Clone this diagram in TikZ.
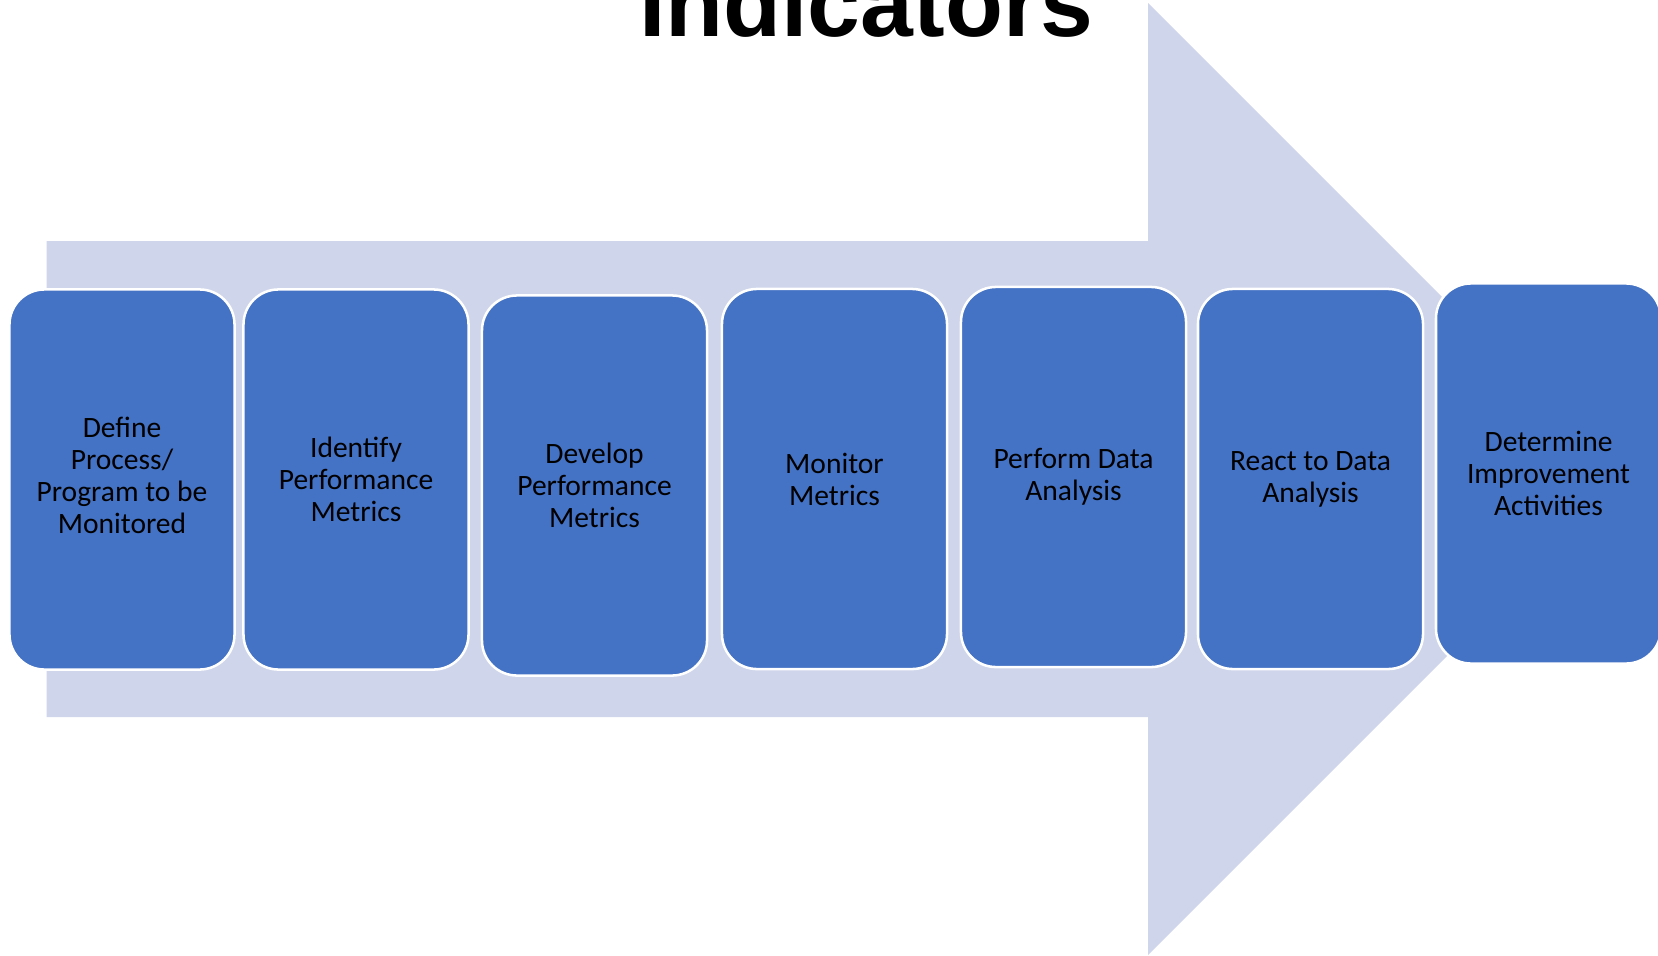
\documentclass[tikz,border=0pt]{standalone}
\usepackage{fontspec}
\setmainfont{Carlito}
\newfontfamily\headfont{Liberation Sans}
\usetikzlibrary{shapes}
\definecolor{stageblue}{HTML}{4472C4}
\definecolor{arrowblue}{HTML}{CFD5EA}
\tikzstyle{stage}  = [
    shape=rectangle,
    rounded corners=0.875cm,
    draw=white,
    line width=1.8pt,
    fill=stageblue,
    minimum width=5.625cm,
    minimum height=9.5cm,
    inner sep=0pt,
    align=center,
    font=\fontsize{21}{22.8}\selectfont
]
\tikzstyle{heading}  = [
    anchor=base,
    font=\headfont\bfseries\fontsize{67.5}{72}\selectfont
]

\begin{document}
\begin{tikzpicture}[x=0.025cm, y=-0.025cm]
\useasboundingbox (0,0) rectangle (1658,955);
\clip (0,0) rectangle (1658,955);

% big background arrow
\fill[arrowblue] (46.5,241) -- (1148,241) -- (1148,3) -- (1624,479)
    -- (1148,955) -- (1148,717) -- (46.5,717) -- cycle;

\node[heading] (title) at (866,36) {Indicators};

\node[stage] (define)   at (122,479.5)  {Define\\Process/\\Program to be\\Monitored\vspace{6pt}};
\node[stage] (identify) at (356,479.5)  {Identify\\Performance\\Metrics};
\node[stage] (develop)  at (594.5,485.5) {Develop\\Performance\\Metrics};
\node[stage] (monitor)  at (834.5,479)  {Monitor\\Metrics};
\node[stage] (analyse)  at (1073.5,477) {Perform Data\\Analysis};
\node[stage] (react)    at (1310.5,479) {React to Data\\Analysis};
\node[stage] (improve)  at (1548.5,473.5) {Determine\\Improvement\\Activities};

\end{tikzpicture}
\end{document}
